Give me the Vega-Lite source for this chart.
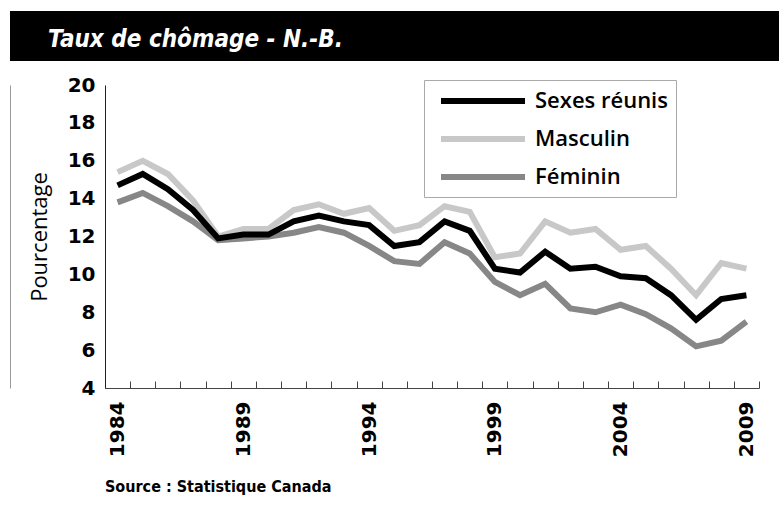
{
  "$schema": "https://vega.github.io/schema/vega-lite/v6.json",
  "background": "white",
  "padding": {"left": 10, "top": 11, "right": 0, "bottom": 0},
  "columns": 1,
  "spacing": 24,
  "bounds": "flush",
  "center": true,
  "resolve": {"legend": {"color": "independent"}},
  "config": {"view": {"stroke": null}},
  "concat": [
    {
      "width": 844,
      "height": 50,
      "view": {"fill": "black", "stroke": null},
      "data": {"values": [{"bandeau": "titre"}]},
      "mark": {"type": "rect", "color": "black"},
      "encoding": {},
      "title": {
        "text": "Taux de chômage - N.-B.",
        "orient": "bottom",
        "anchor": "start",
        "frame": "group",
        "baseline": "alphabetic",
        "offset": -14,
        "dx": 38,
        "color": "white",
        "font": "Liberation Sans Narrow, DejaVu Sans Condensed, sans-serif",
        "fontSize": 24,
        "fontStyle": "italic",
        "fontWeight": "bold"
      }
    },
    {
      "width": 654,
      "height": 303,
      "layer": [
        {
          "data": {
            "values": [
              {"annee": 1984, "serie": "Masculin", "taux": 15.4},
              {"annee": 1985, "serie": "Masculin", "taux": 16.0},
              {"annee": 1986, "serie": "Masculin", "taux": 15.3},
              {"annee": 1987, "serie": "Masculin", "taux": 13.9},
              {"annee": 1988, "serie": "Masculin", "taux": 12.0},
              {"annee": 1989, "serie": "Masculin", "taux": 12.4},
              {"annee": 1990, "serie": "Masculin", "taux": 12.4},
              {"annee": 1991, "serie": "Masculin", "taux": 13.4},
              {"annee": 1992, "serie": "Masculin", "taux": 13.7},
              {"annee": 1993, "serie": "Masculin", "taux": 13.2},
              {"annee": 1994, "serie": "Masculin", "taux": 13.5},
              {"annee": 1995, "serie": "Masculin", "taux": 12.3},
              {"annee": 1996, "serie": "Masculin", "taux": 12.6},
              {"annee": 1997, "serie": "Masculin", "taux": 13.6},
              {"annee": 1998, "serie": "Masculin", "taux": 13.3},
              {"annee": 1999, "serie": "Masculin", "taux": 10.9},
              {"annee": 2000, "serie": "Masculin", "taux": 11.1},
              {"annee": 2001, "serie": "Masculin", "taux": 12.8},
              {"annee": 2002, "serie": "Masculin", "taux": 12.2},
              {"annee": 2003, "serie": "Masculin", "taux": 12.4},
              {"annee": 2004, "serie": "Masculin", "taux": 11.3},
              {"annee": 2005, "serie": "Masculin", "taux": 11.5},
              {"annee": 2006, "serie": "Masculin", "taux": 10.3},
              {"annee": 2007, "serie": "Masculin", "taux": 8.9},
              {"annee": 2008, "serie": "Masculin", "taux": 10.6},
              {"annee": 2009, "serie": "Masculin", "taux": 10.3},
              {"annee": 1984, "serie": "Féminin", "taux": 13.8},
              {"annee": 1985, "serie": "Féminin", "taux": 14.3},
              {"annee": 1986, "serie": "Féminin", "taux": 13.6},
              {"annee": 1987, "serie": "Féminin", "taux": 12.8},
              {"annee": 1988, "serie": "Féminin", "taux": 11.8},
              {"annee": 1989, "serie": "Féminin", "taux": 11.9},
              {"annee": 1990, "serie": "Féminin", "taux": 12.0},
              {"annee": 1991, "serie": "Féminin", "taux": 12.2},
              {"annee": 1992, "serie": "Féminin", "taux": 12.5},
              {"annee": 1993, "serie": "Féminin", "taux": 12.2},
              {"annee": 1994, "serie": "Féminin", "taux": 11.5},
              {"annee": 1995, "serie": "Féminin", "taux": 10.7},
              {"annee": 1996, "serie": "Féminin", "taux": 10.55},
              {"annee": 1997, "serie": "Féminin", "taux": 11.7},
              {"annee": 1998, "serie": "Féminin", "taux": 11.1},
              {"annee": 1999, "serie": "Féminin", "taux": 9.6},
              {"annee": 2000, "serie": "Féminin", "taux": 8.9},
              {"annee": 2001, "serie": "Féminin", "taux": 9.5},
              {"annee": 2002, "serie": "Féminin", "taux": 8.2},
              {"annee": 2003, "serie": "Féminin", "taux": 8.0},
              {"annee": 2004, "serie": "Féminin", "taux": 8.4},
              {"annee": 2005, "serie": "Féminin", "taux": 7.9},
              {"annee": 2006, "serie": "Féminin", "taux": 7.15},
              {"annee": 2007, "serie": "Féminin", "taux": 6.2},
              {"annee": 2008, "serie": "Féminin", "taux": 6.5},
              {"annee": 2009, "serie": "Féminin", "taux": 7.5},
              {"annee": 1984, "serie": "Sexes réunis", "taux": 14.7},
              {"annee": 1985, "serie": "Sexes réunis", "taux": 15.3},
              {"annee": 1986, "serie": "Sexes réunis", "taux": 14.5},
              {"annee": 1987, "serie": "Sexes réunis", "taux": 13.4},
              {"annee": 1988, "serie": "Sexes réunis", "taux": 11.9},
              {"annee": 1989, "serie": "Sexes réunis", "taux": 12.1},
              {"annee": 1990, "serie": "Sexes réunis", "taux": 12.1},
              {"annee": 1991, "serie": "Sexes réunis", "taux": 12.8},
              {"annee": 1992, "serie": "Sexes réunis", "taux": 13.1},
              {"annee": 1993, "serie": "Sexes réunis", "taux": 12.8},
              {"annee": 1994, "serie": "Sexes réunis", "taux": 12.6},
              {"annee": 1995, "serie": "Sexes réunis", "taux": 11.5},
              {"annee": 1996, "serie": "Sexes réunis", "taux": 11.7},
              {"annee": 1997, "serie": "Sexes réunis", "taux": 12.8},
              {"annee": 1998, "serie": "Sexes réunis", "taux": 12.3},
              {"annee": 1999, "serie": "Sexes réunis", "taux": 10.3},
              {"annee": 2000, "serie": "Sexes réunis", "taux": 10.1},
              {"annee": 2001, "serie": "Sexes réunis", "taux": 11.2},
              {"annee": 2002, "serie": "Sexes réunis", "taux": 10.3},
              {"annee": 2003, "serie": "Sexes réunis", "taux": 10.4},
              {"annee": 2004, "serie": "Sexes réunis", "taux": 9.9},
              {"annee": 2005, "serie": "Sexes réunis", "taux": 9.8},
              {"annee": 2006, "serie": "Sexes réunis", "taux": 8.9},
              {"annee": 2007, "serie": "Sexes réunis", "taux": 7.6},
              {"annee": 2008, "serie": "Sexes réunis", "taux": 8.7},
              {"annee": 2009, "serie": "Sexes réunis", "taux": 8.9}
            ]
          },
          "mark": {"type": "line", "strokeWidth": 6, "strokeJoin": "miter", "strokeCap": "butt"},
          "encoding": {
            "x": {
              "field": "annee",
              "type": "ordinal",
              "scale": {"type": "band", "paddingInner": 0, "paddingOuter": 0},
              "axis": {
                "title": null,
                "labelExpr": "(+datum.value - 1984) % 5 === 0 ? datum.label : ''",
                "labelAngle": 270,
                "labelAlign": "right",
                "labelBaseline": "middle",
                "labelFont": "DejaVu Sans",
                "labelFontWeight": "bold",
                "labelFontSize": 20,
                "labelColor": "black",
                "labelPadding": 20,
                "labelOverlap": false,
                "tickBand": "extent",
                "tickSize": -7,
                "tickColor": "#444444",
                "domainColor": "#444444",
                "grid": false
              }
            },
            "y": {
              "field": "taux",
              "type": "quantitative",
              "scale": {"domain": [4, 20], "nice": false, "zero": false},
              "axis": {
                "title": "Pourcentage",
                "values": [4, 6, 8, 10, 12, 14, 16, 18, 20],
                "ticks": false,
                "grid": false,
                "domainColor": "#222222",
                "labelFont": "DejaVu Sans",
                "labelFontWeight": "bold",
                "labelFontSize": 20,
                "labelColor": "black",
                "labelPadding": 10,
                "labelOverlap": false,
                "titleFont": "Open Sans",
                "titleFontWeight": "normal",
                "titleFontSize": 22,
                "titleColor": "black",
                "titlePadding": 16
              }
            },
            "color": {
              "field": "serie",
              "type": "nominal",
              "scale": {"domain": ["Sexes réunis", "Masculin", "Féminin"], "range": ["#000000", "#c8c8c8", "#878787"]},
              "legend": {
                "title": null,
                "orient": "none",
                "legendX": 319,
                "legendY": -5,
                "symbolType": "M-4.2,0H4.2",
                "symbolSize": 400,
                "symbolStrokeWidth": 6,
                "symbolOffset": 38,
                "labelFont": "Open Sans",
                "labelFontSize": 22,
                "labelFontWeight": 600,
                "labelColor": "black",
                "labelOffset": 39,
                "labelLimit": 300,
                "rowPadding": 13,
                "padding": 8,
                "strokeColor": "#a9a9a9",
                "fillColor": "white"
              }
            }
          }
        },
        {
          "data": {"values": [{"bord": 4}]},
          "mark": {"type": "rule", "opacity": 0},
          "encoding": {
            "y": {
              "field": "bord",
              "type": "quantitative",
              "axis": {
                "orient": "left",
                "offset": 95,
                "labels": false,
                "ticks": false,
                "title": null,
                "grid": false,
                "domainColor": "#9a9a9a"
              }
            }
          }
        }
      ],
      "resolve": {"axis": {"y": "independent"}},
      "title": {
        "text": "Source : Statistique Canada",
        "orient": "bottom",
        "anchor": "start",
        "frame": "group",
        "offset": 22,
        "color": "black",
        "font": "Liberation Sans Narrow, DejaVu Sans Condensed, sans-serif",
        "fontSize": 16,
        "fontWeight": "bold"
      }
    }
  ]
}
